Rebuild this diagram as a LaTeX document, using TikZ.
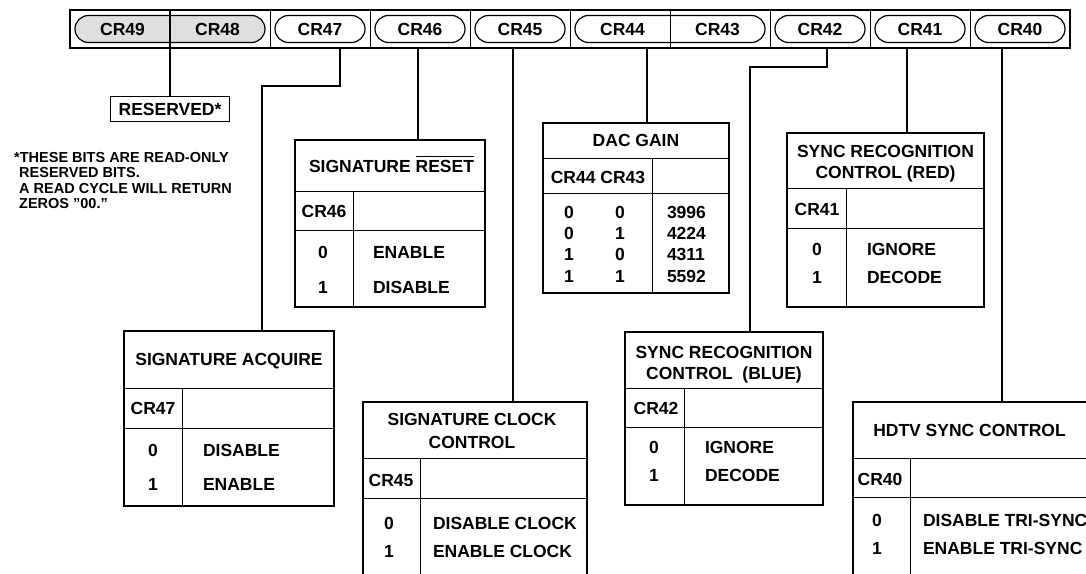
\documentclass[tikz,border=0pt]{standalone}
\usepackage{fontspec}
\setmainfont{Liberation Sans}
\begin{document}
\begin{tikzpicture}[x=1pt,y=-1pt,
    font=\bfseries\fontsize{17.5}{21}\selectfont,
    txt/.style={inner sep=0pt, outer sep=0pt, text height=12.5pt, text depth=0pt},
    small/.style={inner sep=0pt, anchor=west, font=\bfseries\fontsize{14.5}{16}\selectfont, text height=10.4pt, text depth=0pt},
    capsule/.style={txt, draw, line width=1.2pt, rounded corners=13.5pt, minimum height=27pt},
    hdr/.style={txt},
    tbl/.style={line width=1.6pt},
    rule/.style={line width=1pt},
    wire/.style={line width=1.4pt}]
  \useasboundingbox (0,0) rectangle (1086,573);
  \clip (0,0) rectangle (1086,573);

  % register bar
  \draw[line width=2pt] (70,10) rectangle (1070,48);
  \foreach \x in {270,370,470,570,770,870,970}
    \draw[rule] (\x,10) -- (\x,48);
  \node[capsule, fill=gray!25, minimum width=190pt] (r4948) at (170,29) {};
  \node[capsule, minimum width=90pt] (r47) at (320,29) {CR47};
  \node[capsule, minimum width=90pt] (r46) at (420,29) {CR46};
  \node[capsule, minimum width=90pt] (r45) at (520,29) {CR45};
  \node[capsule, minimum width=190pt] (r4443) at (670,29) {};
  \node[capsule, minimum width=90pt] (r42) at (820,29) {CR42};
  \node[capsule, minimum width=90pt] (r41) at (920,29) {CR41};
  \node[capsule, minimum width=90pt] (r40) at (1020,29) {CR40};
  \node[txt] (t49) at (122.5,29) {CR49};
  \node[txt] (t48) at (217.5,29) {CR48};
  \node[txt] (t44) at (622.5,29) {CR44};
  \node[txt] (t43) at (717.5,29) {CR43};
  \draw[rule] (670,10) -- (670,48);

  % connector ends on the bar
  \coordinate (p49) at (170,10);
  \coordinate (p47) at (340,48);
  \coordinate (p46) at (418,48);
  \coordinate (p45) at (513,48);
  \coordinate (p4443) at (647,48);
  \coordinate (p42) at (827,48);
  \coordinate (p41) at (907,48);
  \coordinate (p40) at (1002,48);
  \coordinate (b47) at (262,86);
  \coordinate (b42) at (750,67);

  % reserved
  \node[txt, draw, line width=1.4pt, minimum width=119pt, minimum height=25pt] (res) at (170,109) {RESERVED*};
  \node[small] (fn1) at (14,157) {*THESE BITS ARE READ-ONLY};
  \node[small] (fn2) at (19,172.5) {RESERVED BITS.};
  \node[small] (fn3) at (19,188) {A READ CYCLE WILL RETURN};
  \node[small] (fn4) at (19,203.5) {ZEROS "00."};

  % signature acquire
  \node[hdr, minimum width=210pt, minimum height=57pt] (acq) at (229,359.5) {SIGNATURE ACQUIRE};
  \draw[tbl] (124,331) rectangle (334,506);
  \draw[rule] (124,388) -- (334,388) (124,428) -- (334,428) (182,388) -- (182,506);
  \node[txt] (acq0) at (153,408) {CR47};
  \node[txt] (acqa) at (153,450) {0};
  \node[txt] (acqb) at (153,484) {1};
  \node[txt, anchor=west] (acqc) at (203,450) {DISABLE};
  \node[txt, anchor=west] (acqd) at (203,484) {ENABLE};

  % signature reset
  \node[hdr, minimum width=190pt, minimum height=51pt] (rst) at (390,165.5) {};
  \node[txt, anchor=west] (rst1) at (309,166) {SIGNATURE};
  \node[txt, anchor=west] (rst2) at ([xshift=4.9pt]rst1.east) {RESET};
  \draw[line width=1pt] ([yshift=3pt]rst2.north west) -- ([yshift=3pt]rst2.north east);
  \draw[tbl] (295,140) rectangle (485,307);
  \draw[rule] (295,191) -- (485,191) (295,230) -- (485,230) (353,191) -- (353,307);
  \node[txt] (rst0) at (324,211) {CR46};
  \node[txt] (rsta) at (323,252) {0};
  \node[txt] (rstb) at (323,287) {1};
  \node[txt, anchor=west] (rstc) at (373,252) {ENABLE};
  \node[txt, anchor=west] (rstd) at (373,287) {DISABLE};

  % signature clock control
  \node[hdr, minimum width=224pt, minimum height=56pt] (clk) at (475,430) {};
  \draw[tbl] (363,590) -- (363,402) -- (587,402) -- (587,590);
  \draw[rule] (363,458) -- (587,458) (363,498) -- (587,498) (420,458) -- (420,590);
  \node[txt] (clk1) at (472,419) {SIGNATURE CLOCK};
  \node[txt] (clk2) at (472,442) {CONTROL};
  \node[txt] (clk0) at (391,480) {CR45};
  \node[txt] (clka) at (389,523) {0};
  \node[txt] (clkb) at (389,551) {1};
  \node[txt, anchor=west] (clkc) at (433,523) {DISABLE CLOCK};
  \node[txt, anchor=west] (clkd) at (433,551) {ENABLE CLOCK};

  % dac gain
  \node[hdr, minimum width=186pt, minimum height=35pt] (dac) at (636,140.5) {DAC GAIN};
  \draw[tbl] (543,123) rectangle (729,293);
  \draw[rule] (543,158) -- (729,158) (543,193) -- (729,193) (652,158) -- (652,293);
  \node[txt] (dac0) at (598,177) {CR44 CR43};
  \node[txt] (dac1) at (569,212) {0};
  \node[txt] (dac2) at (620,212) {0};
  \node[txt, anchor=west] (dac3) at (667,212) {3996};
  \node[txt] (dac4) at (569,233) {0};
  \node[txt] (dac5) at (620,233) {1};
  \node[txt, anchor=west] (dac6) at (667,233) {4224};
  \node[txt] (dac7) at (569,254) {1};
  \node[txt] (dac8) at (620,254) {0};
  \node[txt, anchor=west] (dac9) at (667,254) {4311};
  \node[txt] (dac10) at (569,276) {1};
  \node[txt] (dac11) at (620,276) {1};
  \node[txt, anchor=west] (dac12) at (667,276) {5592};

  % sync recognition (blue)
  \node[hdr, minimum width=198pt, minimum height=56pt] (blue) at (724,360) {};
  \draw[tbl] (625,332) rectangle (823,505);
  \draw[rule] (625,388) -- (823,388) (625,427) -- (823,427) (684,388) -- (684,505);
  \node[txt] (blue1) at (724,352) {SYNC RECOGNITION};
  \node[txt] (blue2) at (724,373) {CONTROL\ \ (BLUE)};
  \node[txt] (blue0) at (656,408) {CR42};
  \node[txt] (bluea) at (654,447) {0};
  \node[txt] (blueb) at (654,475) {1};
  \node[txt, anchor=west] (bluec) at (705,447) {IGNORE};
  \node[txt, anchor=west] (blued) at (705,475) {DECODE};

  % sync recognition (red)
  \node[hdr, minimum width=197pt, minimum height=55pt] (red) at (885.5,160.5) {};
  \draw[tbl] (787,133) rectangle (984,307);
  \draw[rule] (787,188) -- (984,188) (787,228) -- (984,228) (846,188) -- (846,307);
  \node[txt] (red1) at (885.5,151) {SYNC RECOGNITION};
  \node[txt] (red2) at (885.5,172) {CONTROL (RED)};
  \node[txt] (red0) at (817,209) {CR41};
  \node[txt] (reda) at (817,249) {0};
  \node[txt] (redb) at (817,277) {1};
  \node[txt, anchor=west] (redc) at (867,249) {IGNORE};
  \node[txt, anchor=west] (redd) at (867,277) {DECODE};

  % hdtv sync control
  \node[hdr, minimum width=233pt, minimum height=56pt] (hdtv) at (969.5,430) {HDTV SYNC CONTROL};
  \draw[tbl] (853,590) -- (853,402) -- (1095,402);
  \draw[rule] (853,458) -- (1095,458) (853,497) -- (1095,497) (910,458) -- (910,590);
  \node[txt] (hdtv0) at (880,479) {CR40};
  \node[txt] (hdtva) at (877,520) {0};
  \node[txt] (hdtvb) at (877,548) {1};
  \node[txt, anchor=west] (hdtvc) at (923,520) {DISABLE TRI-SYNC};
  \node[txt, anchor=west] (hdtvd) at (923,548) {ENABLE TRI-SYNC};

  % connectors
  \draw[wire] (p49) -- (res.north);
  \draw[wire] (p47) |- (b47) -- (b47 |- acq.north);
  \draw[wire] (p46) -- (p46 |- rst.north);
  \draw[wire] (p45) -- (p45 |- clk.north);
  \draw[wire] (p4443) -- (p4443 |- dac.north);
  \draw[wire] (p42) |- (b42) -- (b42 |- blue.north);
  \draw[wire] (p41) -- (p41 |- red.north);
  \draw[wire] (p40) -- (p40 |- hdtv.north);
\end{tikzpicture}
\end{document}
